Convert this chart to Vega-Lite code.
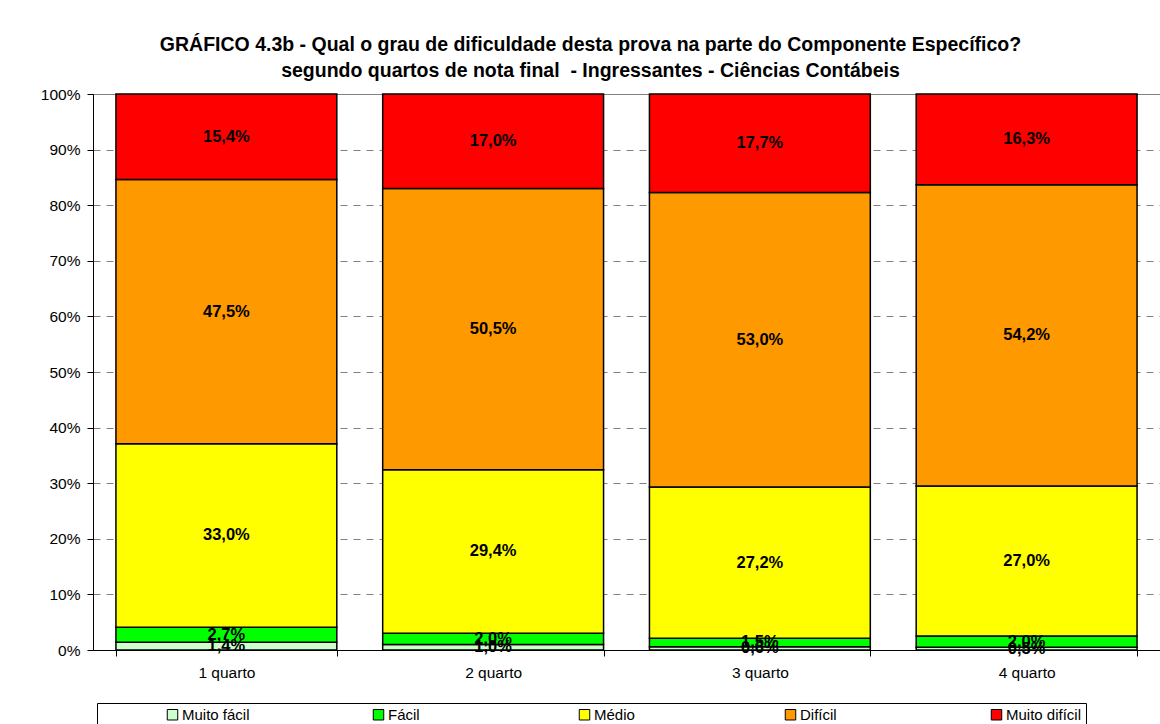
{
  "$schema": "https://vega.github.io/schema/vega-lite/v6.json",
  "width": 1067,
  "height": 556,
  "autosize": {"type": "none"},
  "padding": {"left": 93, "top": 94, "right": 0, "bottom": 74},
  "background": "white",
  "title": {
    "text": ["GRÁFICO 4.3b - Qual o grau de dificuldade desta prova na parte do Componente Específico?", "segundo quartos de nota final \u00a0- Ingressantes - Ciências Contábeis"],
    "font": "Liberation Sans",
    "fontSize": 19.5,
    "fontWeight": "bold",
    "lineHeight": 26,
    "anchor": "middle",
    "dx": -36,
    "offset": 6,
    "color": "black"
  },
  "config": {
    "locale": {"number": {"decimal": ",", "thousands": ".", "grouping": [3], "currency": ["R$", ""]}},
    "view": {"stroke": "#808080", "strokeWidth": 1},
    "font": "Liberation Sans"
  },
  "data": {
    "values": [
      {"quarto": "1 quarto", "categoria": "Muito fácil", "ordem": 1, "value": 0.014},
      {"quarto": "1 quarto", "categoria": "Fácil", "ordem": 2, "value": 0.027},
      {"quarto": "1 quarto", "categoria": "Médio", "ordem": 3, "value": 0.330},
      {"quarto": "1 quarto", "categoria": "Difícil", "ordem": 4, "value": 0.475},
      {"quarto": "1 quarto", "categoria": "Muito difícil", "ordem": 5, "value": 0.154},
      {"quarto": "2 quarto", "categoria": "Muito fácil", "ordem": 1, "value": 0.010},
      {"quarto": "2 quarto", "categoria": "Fácil", "ordem": 2, "value": 0.020},
      {"quarto": "2 quarto", "categoria": "Médio", "ordem": 3, "value": 0.294},
      {"quarto": "2 quarto", "categoria": "Difícil", "ordem": 4, "value": 0.505},
      {"quarto": "2 quarto", "categoria": "Muito difícil", "ordem": 5, "value": 0.170},
      {"quarto": "3 quarto", "categoria": "Muito fácil", "ordem": 1, "value": 0.006},
      {"quarto": "3 quarto", "categoria": "Fácil", "ordem": 2, "value": 0.015},
      {"quarto": "3 quarto", "categoria": "Médio", "ordem": 3, "value": 0.272},
      {"quarto": "3 quarto", "categoria": "Difícil", "ordem": 4, "value": 0.530},
      {"quarto": "3 quarto", "categoria": "Muito difícil", "ordem": 5, "value": 0.177},
      {"quarto": "4 quarto", "categoria": "Muito fácil", "ordem": 1, "value": 0.005},
      {"quarto": "4 quarto", "categoria": "Fácil", "ordem": 2, "value": 0.020},
      {"quarto": "4 quarto", "categoria": "Médio", "ordem": 3, "value": 0.270},
      {"quarto": "4 quarto", "categoria": "Difícil", "ordem": 4, "value": 0.542},
      {"quarto": "4 quarto", "categoria": "Muito difícil", "ordem": 5, "value": 0.163}
    ]
  },
  "transform": [
    {"stack": "value", "groupby": ["quarto"], "sort": [{"field": "ordem", "order": "ascending"}], "as": ["v0", "v1"], "offset": "normalize"},
    {"calculate": "(datum.v0 + datum.v1) / 2", "as": "mid"}
  ],
  "encoding": {
    "x": {
      "field": "quarto",
      "type": "nominal",
      "scale": {"paddingInner": 0.172, "paddingOuter": 0.086},
      "axis": {
        "title": null,
        "labelAngle": 0,
        "labelFontSize": 15.5,
        "labelColor": "black",
        "labelFont": "Liberation Sans",
        "tickBand": "extent",
        "tickSize": 6,
        "tickColor": "black",
        "domainColor": "black",
        "labelPadding": 9,
        "grid": false
      }
    }
  },
  "layer": [
    {
      "mark": {"type": "bar", "stroke": "black", "strokeWidth": 1.5},
      "encoding": {
        "y": {
          "field": "v0",
          "type": "quantitative",
          "scale": {"domain": [0, 1], "nice": false},
          "axis": {
            "title": null,
            "format": ".0%",
            "values": [0, 0.1, 0.2, 0.3, 0.4, 0.5, 0.6, 0.7, 0.8, 0.9, 1],
            "labelFontSize": 15.5,
            "labelColor": "black",
            "labelFont": "Liberation Sans",
            "domainColor": "black",
            "tickColor": "black",
            "tickSize": 6,
            "labelPadding": 7,
            "grid": true,
            "gridColor": "#808080",
            "gridDash": [7, 6]
          }
        },
        "y2": {"field": "v1"},
        "color": {
          "field": "categoria",
          "type": "nominal",
          "scale": {
            "domain": ["Muito fácil", "Fácil", "Médio", "Difícil", "Muito difícil"],
            "range": ["#CCFFCC", "#00FF00", "#FFFF00", "#FF9900", "#FF0000"]
          },
          "legend": {
            "orient": "none",
            "legendX": 4,
            "legendY": 609,
            "direction": "horizontal",
            "columns": 5,
            "gridAlign": "all",
            "columnPadding": 113,
            "strokeColor": "black",
            "padding": 4,
            "title": "\u00a0",
            "titleOrient": "left",
            "titlePadding": 64,
            "labelFontSize": 15,
            "labelFont": "Liberation Sans",
            "labelColor": "black",
            "labelOffset": 2,
            "symbolType": "square",
            "symbolSize": 110,
            "symbolStrokeColor": "black",
            "symbolStrokeWidth": 1,
            "symbolOpacity": 1
          }
        }
      }
    },
    {
      "mark": {"type": "text", "fontWeight": "bold", "fontSize": 16.5, "font": "Liberation Sans", "color": "black"},
      "encoding": {
        "y": {"field": "mid", "type": "quantitative", "axis": {"title": null}},
        "text": {"field": "value", "type": "quantitative", "format": ".1%"}
      }
    }
  ]
}
